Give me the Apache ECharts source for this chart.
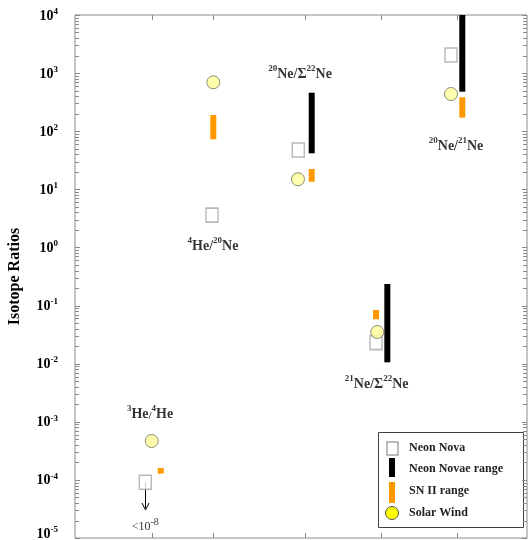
<!DOCTYPE html>
<html><head><meta charset="utf-8">
<script src="https://cdn.jsdelivr.net/npm/echarts@6/dist/echarts.min.js"></script>
<style>html,body{margin:0;padding:0;background:#fff}#c{width:531px;height:540px}</style>
</head><body><div id="c"></div>
<script>
// ---- data (x in axis units 0..6, y = isotope ratio) ----
const ratioNames = ['3He/4He', '4He/20Ne', '20Ne/Σ22Ne', '21Ne/Σ22Ne', '20Ne/21Ne'];
const ratioRich = ['{s|3}{b|He}{m|/}{s|4}{b|He}', '{s|4}{b|He/}{s|20}{b|Ne}', '{s|20}{b|Ne/Σ}{s|22}{b|Ne}', '{s|21}{b|Ne/Σ}{s|22}{b|Ne}', '{s|20}{b|Ne/}{s|21}{b|Ne}'];
const ratioTickX = [1.02, 1.83, 3.05, 4.06, 5.07];
const labelX = [0.996, 1.832, 2.987, 4.005, 5.058];
const labelY = [1.42e-3, 1.10, 1016, 4.64e-3, 58];

const novaX = [0.933, 1.819, 2.964, 3.996, 4.991];
const novaY = [9.1e-5, 3.6, 47.5, 0.023, 2050];

const solarX = [1.018, 1.836, 2.960, 4.013, 4.991];
const solarY = [4.67e-4, 695, 14.9, 0.0351, 436];

const novaeRangeX = [3.142, 4.146, 5.141];
const novaeRangeLow = [41.7, 0.01055, 479];
const novaeRangeHigh = [460, 0.235, 10000];

const snX = [1.138, 1.836, 3.142, 3.996, 5.141];
const snLow = [1.28e-4, 72.6, 13.5, 0.058, 171];
const snHigh = [1.6e-4, 190, 22.4, 0.0838, 384];

// upper limit arrow for 3He/4He neon nova (<1e-8)
const limitX = [0.933];
const limitFrom = [9.1e-5];
const limitTo = [3.03e-5];
const limitLabelY = [1.67e-5];

const yMin = 1e-5, yMax = 1e4;

const FONT = '"Liberation Serif","Times New Roman",serif';
const chart = echarts.init(document.getElementById('c'), null, {renderer: 'canvas'});

const yTickVals = [];
for (let e = -5; e < 4; e++) for (let k = 1; k <= 9; k++) yTickVals.push(k * Math.pow(10, e));
yTickVals.push(1e4);

function rangeSeries(name, xs, lo, hi, color) {
  return {
    name, type: 'custom', silent: true,
    data: xs.map((x, i) => [x, lo[i], hi[i]]),
    encode: {x: 0, y: [1, 2]},
    renderItem: (params, api) => {
      const a = api.coord([api.value(0), api.value(2)]);
      const b = api.coord([api.value(0), api.value(1)]);
      return {type: 'rect', shape: {x: a[0] - 3, y: a[1], width: 6, height: b[1] - a[1]}, style: {fill: color}};
    }
  };
}

const option = {
  animation: false,
  grid: {left: 75, right: 4, top: 15, bottom: 2, outerBoundsMode: 'none', containLabel: false, show: true, borderColor: '#8a8a8a', borderWidth: 1, backgroundColor: 'transparent'},
  xAxis: {type: 'value', min: 0, max: 6, axisLine: {show: false}, axisTick: {show: false}, axisLabel: {show: false}, splitLine: {show: false}},
  yAxis: {
    type: 'log', logBase: 10, min: yMin, max: yMax,
    axisLine: {show: false}, axisTick: {show: false}, splitLine: {show: false},
    name: 'Isotope Ratios', nameLocation: 'middle', nameGap: 52,
    nameTextStyle: {fontFamily: FONT, fontWeight: 'bold', fontSize: 16, color: '#000'},
    axisLabel: {
      margin: 17,
      formatter: v => {
        const e = Math.round(Math.log10(v));
        const t = '{b|10}{s|' + e + '}';
        return e === -5 ? t + '\n{e| }' : t;
      },
      rich: {
        b: {fontFamily: FONT, fontWeight: 'bold', fontSize: 14, color: '#000', lineHeight: 16, verticalAlign: 'bottom'},
        s: {fontFamily: FONT, fontWeight: 'bold', fontSize: 9, color: '#000', lineHeight: 10, verticalAlign: 'top'},
        e: {fontSize: 6, lineHeight: 9}
      }
    }
  },
  series: [
    {
      name: 'yticks', type: 'custom', silent: true,
      data: yTickVals.map(v => [0, v]), encode: {x: 0, y: 1},
      renderItem: (params, api) => {
        const v = api.value(1);
        const p = api.coord([0, v]), q = api.coord([6, v]);
        const lg = Math.log10(v);
        const len = Math.abs(lg - Math.round(lg)) < 1e-6 ? 5 : 4;
        const y = Math.round(p[1]) + 0.5;
        return {type: 'group', children: [
          {type: 'line', shape: {x1: p[0], y1: y, x2: p[0] + len, y2: y}, style: {stroke: '#8a8a8a', lineWidth: 1}},
          {type: 'line', shape: {x1: q[0], y1: y, x2: q[0] - len, y2: y}, style: {stroke: '#8a8a8a', lineWidth: 1}}
        ]};
      }
    },
    {
      name: 'xticks', type: 'custom', silent: true,
      data: ratioTickX.map(x => [x, yMin]), encode: {x: 0, y: 1},
      renderItem: (params, api) => {
        const p = api.coord([api.value(0), yMin]), q = api.coord([api.value(0), yMax]);
        const x = Math.round(p[0]) + 0.5;
        return {type: 'group', children: [
          {type: 'line', shape: {x1: x, y1: p[1], x2: x, y2: p[1] - 5}, style: {stroke: '#8a8a8a', lineWidth: 1}},
          {type: 'line', shape: {x1: x, y1: q[1], x2: x, y2: q[1] + 5}, style: {stroke: '#8a8a8a', lineWidth: 1}}
        ]};
      }
    },
    rangeSeries('Neon Novae range', novaeRangeX, novaeRangeLow, novaeRangeHigh, '#000000'),
    rangeSeries('SN II range', snX, snLow, snHigh, '#ff9900'),
    {
      name: 'Neon Nova', type: 'scatter', silent: true,
      data: novaX.map((x, i) => [x, novaY[i]]),
      symbol: 'rect', symbolSize: [12, 14],
      itemStyle: {color: '#ffffff', borderColor: '#a6a6a6', borderWidth: 1.5}
    },
    {
      name: 'Solar Wind', type: 'scatter', silent: true,
      data: solarX.map((x, i) => [x, solarY[i]]),
      symbol: 'circle', symbolSize: 13,
      itemStyle: {color: '#ffff99', borderColor: '#6e6e5a', borderWidth: 1}
    },
    {
      name: 'limit', type: 'custom', silent: true,
      data: limitX.map((x, i) => [x, limitFrom[i], limitTo[i]]), encode: {x: 0, y: [1, 2]},
      renderItem: (params, api) => {
        const a = api.coord([api.value(0), api.value(1)]);
        const b = api.coord([api.value(0), api.value(2)]);
        const x = Math.round(a[0]) + 0.5;
        return {type: 'group', children: [
          {type: 'line', shape: {x1: x, y1: a[1], x2: x, y2: b[1] - 2}, style: {stroke: '#000', lineWidth: 1}},
          {type: 'polyline', shape: {points: [[x - 3.5, b[1] - 7], [x, b[1]], [x + 3.5, b[1] - 7]]}, style: {stroke: '#000', lineWidth: 1, fill: null}}
        ]};
      }
    },
    {
      name: 'limitLabel', type: 'scatter', silent: true, symbolSize: 0,
      data: limitX.map((x, i) => [x, limitLabelY[i]]),
      label: {
        show: true, position: 'inside', formatter: '{b|<10}{s|-8}',
        rich: {
          b: {fontFamily: FONT, fontSize: 12, color: '#000', lineHeight: 15, verticalAlign: 'bottom'},
          s: {fontFamily: FONT, fontSize: 10, color: '#000', lineHeight: 10, verticalAlign: 'top'}
        }
      }
    },
    {
      name: 'ratioLabels', type: 'scatter', silent: true, symbolSize: 0,
      data: labelX.map((x, i) => ({value: [x, labelY[i]], name: ratioNames[i]})),
      label: {
        show: true, position: 'inside',
        formatter: p => ratioRich[p.dataIndex],
        rich: {
          b: {fontFamily: FONT, fontWeight: 'bold', fontSize: 14, color: '#000', lineHeight: 17, verticalAlign: 'bottom'},
          m: {fontFamily: FONT, fontWeight: 'bold', fontSize: 11, color: '#000', lineHeight: 17, verticalAlign: 'bottom'},
          s: {fontFamily: FONT, fontWeight: 'bold', fontSize: 9, color: '#000', lineHeight: 10, verticalAlign: 'top'}
        }
      }
    }
  ],
  graphic: [
    {type: 'rect', shape: {x: 378.5, y: 432.5, width: 145, height: 95}, style: {fill: '#fff', stroke: '#404040', lineWidth: 1}},
    {type: 'rect', shape: {x: 387, y: 442, width: 11, height: 13}, style: {fill: '#fff', stroke: '#a6a6a6', lineWidth: 1.5}},
    {type: 'rect', shape: {x: 389, y: 458, width: 6, height: 19}, style: {fill: '#000'}},
    {type: 'rect', shape: {x: 389, y: 482, width: 6, height: 21}, style: {fill: '#ff9900'}},
    {type: 'circle', shape: {cx: 392, cy: 513, r: 6.5}, style: {fill: '#ffff00', stroke: '#555', lineWidth: 1}},
    {type: 'text', x: 409, y: 448, style: {text: 'Neon Nova', font: 'bold 12px ' + FONT, fill: '#222', verticalAlign: 'middle'}},
    {type: 'text', x: 409, y: 469, style: {text: 'Neon Novae range', font: 'bold 12px ' + FONT, fill: '#222', verticalAlign: 'middle'}},
    {type: 'text', x: 409, y: 491, style: {text: 'SN II range', font: 'bold 12px ' + FONT, fill: '#222', verticalAlign: 'middle'}},
    {type: 'text', x: 409, y: 513, style: {text: 'Solar Wind', font: 'bold 12px ' + FONT, fill: '#222', verticalAlign: 'middle'}}
  ]
};
chart.setOption(option);
</script>
</body></html>
